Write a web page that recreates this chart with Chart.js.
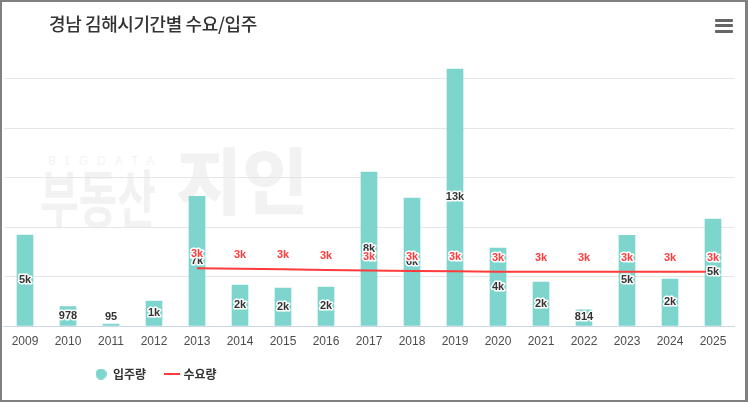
<!DOCTYPE html>
<html>
<head>
<meta charset="utf-8">
<script src="https://cdn.jsdelivr.net/npm/chart.js@4"></script>
<style>
  body { margin: 0; background: #fff; }
  #wrap { position: relative; width: 748px; height: 402px; box-sizing: border-box;
          border: 2px solid #808080; border-right-width: 3px; overflow: hidden; background: #fff; }
  #title { position: absolute; left: 47px; top: 8px; line-height: 22px; font: 500 18px "Noto Sans CJK KR";
           color: #333; letter-spacing: -0.4px; white-space: nowrap; }
  #menu { position: absolute; left: 713px; top: 17px; width: 18px; }
  #menu div { height: 3px; background: #666; margin-bottom: 2.3px; border-radius: 1px; }
  #mark { position: absolute; left: 0; top: 0; color: #f2f2f2; font-family: "Noto Sans CJK KR"; white-space: nowrap; }
  #mark div { position: absolute; white-space: nowrap; }
  #mark .bd { left: 46px; top: 150px; font: 12px "Noto Sans"; letter-spacing: 9.5px; color: #f3f3f3; }
  #mark .bs { left: 38px; top: 155px; font: 700 42px/50px "Noto Sans CJK KR"; transform: scaleY(1.5); transform-origin: left top; }
  #mark .ji { left: 174px; top: 133px; font: 900 72px/84px "Noto Sans CJK KR"; letter-spacing: 0; }
  #box { position: absolute; left: 0; top: 0; width: 743px; height: 398px; }
</style>
</head>
<body>
<div id="wrap">
  <div id="mark"><div class="bd">BIGDATA</div><div class="bs">부동산</div><div class="ji">지인</div></div>
  <div id="box"><canvas id="myChart"></canvas></div>
  <div id="title">경남 김해시기간별 수요/입주</div>
  <div id="menu"><div></div><div></div><div></div></div>
</div>
<script>
const years = ["2009", "2010", "2011", "2012", "2013", "2014", "2015", "2016", "2017",
  "2018", "2019", "2020", "2021", "2022", "2023", "2024", "2025"];
// 입주량
const supply = [4600, 978, 95, 1260, 6550, 2070, 1920, 1970, 7780, 6460, 12980, 3940, 2220, 814, 4580, 2370, 5400];
// 수요량
const demand = [null, null, null, null, 2914, 2894, 2864, 2828, 2803, 2778, 2763, 2745, 2742, 2742, 2742, 2742, 2742];
const gridValues = [0, 2500, 5000, 7500, 10000, 12500];

const BAR = "#7dd5ce";
const RED = "#ff3b3b";

function fmt(v) {
  return v >= 1000 ? Math.round(v / 1000) + "k" : String(v);
}

// legend markers
const dot = document.createElement("canvas");
dot.width = 11; dot.height = 11;
(function () {
  const c = dot.getContext("2d");
  c.fillStyle = BAR;
  c.beginPath(); c.arc(5.5, 5.5, 5.5, 0, Math.PI * 2); c.fill();
})();
const dash = document.createElement("canvas");
dash.width = 16; dash.height = 2;
(function () {
  const c = dash.getContext("2d");
  c.fillStyle = RED;
  c.fillRect(0, 0, 16, 2);
})();

const valueLabels = {
  id: "valueLabels",
  afterDatasetsDraw(chart) {
    const ctx = chart.ctx;
    ctx.save();
    ctx.font = 'bold 11px "Liberation Sans", Arial';
    ctx.textAlign = "center";
    ctx.textBaseline = "middle";
    ctx.lineJoin = "round";
    ctx.lineWidth = 3;
    ctx.strokeStyle = "#fff";
    chart.getDatasetMeta(0).data.forEach((bar, i) => {
      const y = Math.min((bar.y + bar.base) / 2, bar.base - 9);
      ctx.fillStyle = "#333";
      ctx.strokeText(fmt(supply[i]), bar.x, y);
      ctx.fillText(fmt(supply[i]), bar.x, y);
    });
    chart.getDatasetMeta(1).data.forEach((pt, i) => {
      if (demand[i] == null) return;
      ctx.fillStyle = RED;
      ctx.strokeText(fmt(demand[i]), pt.x, pt.y - 14);
      ctx.fillText(fmt(demand[i]), pt.x, pt.y - 14);
    });
    ctx.restore();
  }
};

const legendShift = {
  id: "legendShift",
  afterLayout(chart) {
    chart.legend.left = 73.6;
  }
};

const data = {
  labels: years,
  datasets: [
    {
      type: "bar",
      label: "입주량",
      data: supply,
      backgroundColor: BAR,
      barThickness: 16,
      order: 2,
    },
    {
      type: "line",
      label: "수요량",
      data: demand,
      borderColor: RED,
      backgroundColor: RED,
      borderWidth: 2,
      pointRadius: 0,
      tension: 0,
      order: 1,
    },
  ],
};

const config = {
  data: data,
  options: {
    responsive: true,
    maintainAspectRatio: false,
    animation: false,
    devicePixelRatio: 1,
    layout: { padding: { left: 1.5, right: 10.5, top: 47, bottom: 10 } },
    scales: {
      x: {
        grid: { display: false, drawTicks: false },
        border: { display: true, color: "#ccd6eb", width: 1 },
        ticks: { color: "#4d4d4d", padding: 8.5, font: { family: '"Liberation Sans"', size: 12 } },
        afterFit: (scale) => { scale.height = 22.6; },
      },
      y: {
        min: 0,
        max: 14000,
        afterBuildTicks: (scale) => { scale.ticks = gridValues.map((v) => ({ value: v })); },
        grid: { color: "#e6e6e6", drawTicks: false },
        border: { display: false },
        ticks: { display: false },
      },
    },
    plugins: {
      tooltip: { enabled: false },
      legend: {
        position: "bottom",
        align: "start",
        labels: {
          usePointStyle: true,
          boxWidth: 12,
          boxHeight: 12,
          padding: 19.4,
          color: "#333",
          font: { family: '"Noto Sans CJK KR"', size: 12, weight: "bold" },
          sort: (a, b) => a.datasetIndex - b.datasetIndex,
          generateLabels: (chart) =>
            Chart.defaults.plugins.legend.labels.generateLabels(chart).map((l) => ({
              ...l,
              pointStyle: l.datasetIndex === 0 ? dot : dash,
            })),
        },
      },
    },
  },
  plugins: [valueLabels, legendShift],
};

const myChart = new Chart(document.getElementById("myChart"), config);
</script>
</body>
</html>
